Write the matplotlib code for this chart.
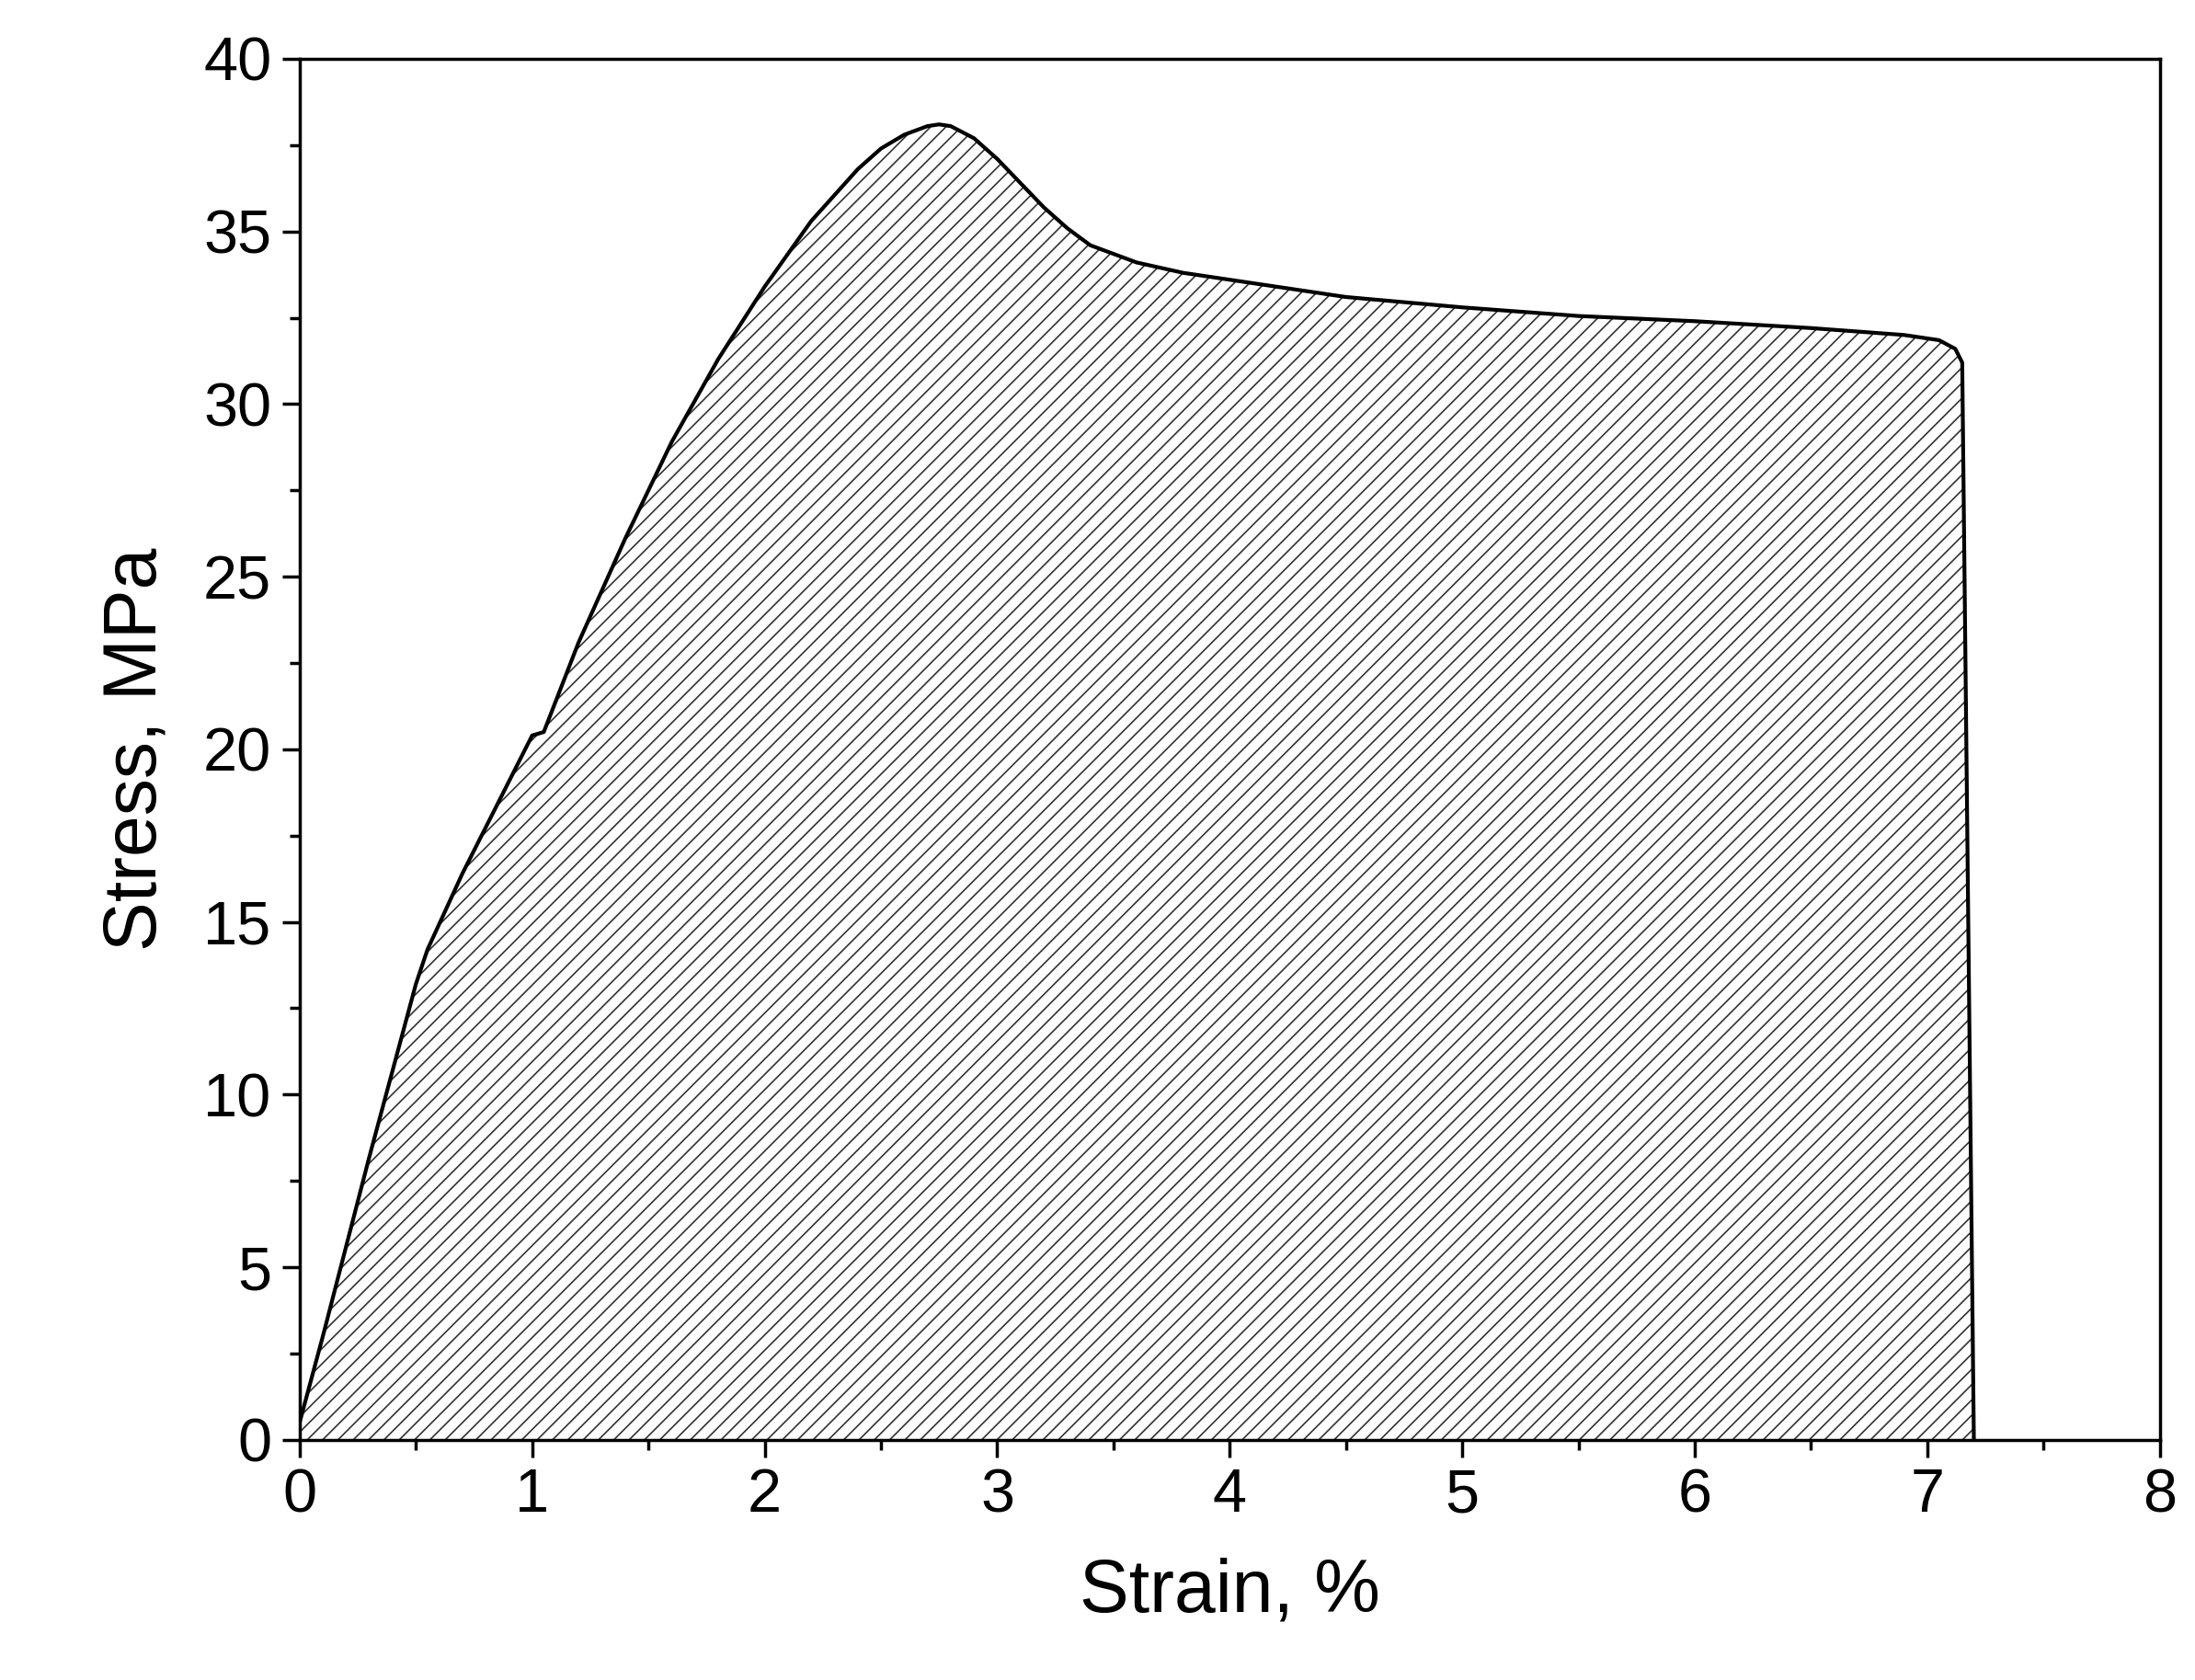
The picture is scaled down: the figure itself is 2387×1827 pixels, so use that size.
import matplotlib
matplotlib.use("Agg")
import matplotlib.pyplot as plt
from matplotlib.ticker import MultipleLocator

strain = [0, 0.1, 0.2, 0.3, 0.4, 0.5, 0.55, 0.7, 0.85, 1.0, 1.05, 1.2, 1.4, 1.6, 1.8, 2.0, 2.2, 2.4, 2.5, 2.6,
          2.7, 2.75, 2.8, 2.9, 3.0, 3.1, 3.2, 3.3, 3.4, 3.6, 3.8, 4.0, 4.5, 5.0, 5.5, 6.0, 6.5, 6.9, 7.05, 7.12, 7.15, 7.2]
stress = [0.5, 3.0, 5.6, 8.2, 10.7, 13.2, 14.2, 16.4, 18.4, 20.4, 20.5, 23.1, 26.1, 28.9, 31.3, 33.4, 35.3, 36.8, 37.4, 37.8,
          38.05, 38.1, 38.05, 37.7, 37.1, 36.4, 35.7, 35.1, 34.6, 34.1, 33.8, 33.6, 33.1, 32.8, 32.55, 32.4, 32.2, 32.0, 31.85, 31.6, 31.2, 0.0]

plt.rcParams['font.family'] = ['Liberation Sans', 'DejaVu Sans']
plt.rcParams['hatch.linewidth'] = 1.2
fig = plt.figure(figsize=(23.87, 18.27), dpi=100)
ax = fig.add_axes([0.1365, 0.143, 0.8475, 0.822])
ax.fill_between(strain, stress, 0, facecolor='white', edgecolor='#333333', hatch='//', linewidth=0)
ax.plot(strain, stress, color='black', lw=3)
ax.set_xlim(0, 8)
ax.set_ylim(0, 40)
ax.xaxis.set_major_locator(MultipleLocator(1))
ax.xaxis.set_minor_locator(MultipleLocator(0.5))
ax.yaxis.set_major_locator(MultipleLocator(5))
ax.yaxis.set_minor_locator(MultipleLocator(2.5))
ax.tick_params(which='major', length=14, width=2.5, labelsize=48, direction='out', pad=8)
ax.tick_params(which='minor', length=8, width=2.5, direction='out')
for s in ax.spines.values():
    s.set_linewidth(2.5)
ax.set_xlabel('Strain, %', fontsize=58, labelpad=25)
ax.set_ylabel('Stress, MPa', fontsize=58, labelpad=25)
fig.savefig('out.png', dpi=100)
